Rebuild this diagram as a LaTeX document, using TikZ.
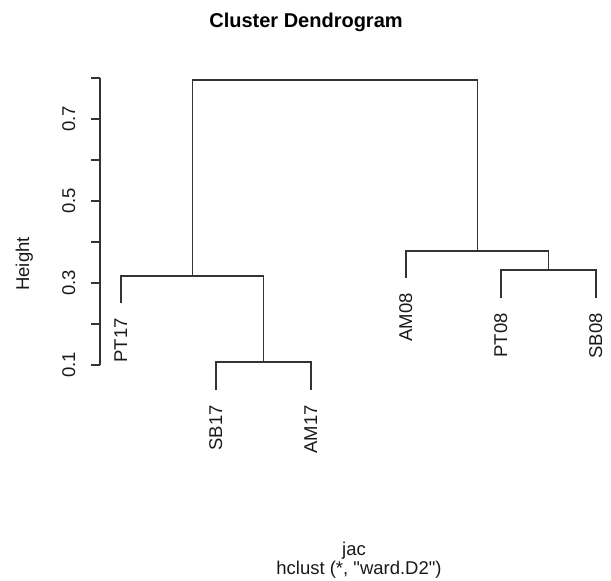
\documentclass[tikz,border=0pt]{standalone}
\usepackage{fontspec}
\setmainfont{Liberation Sans}
\newfontfamily\plainfont{Liberation Sans}
\begin{document}
\begin{tikzpicture}[x=1pt,y=-1pt,
  tree/.style={line width=1.35pt, draw=black!80},
  axisline/.style={line width=1.2pt, draw=black!80},
  lab/.style={inner sep=0pt, font=\fontsize{18.5}{20}\selectfont, text=black!90},
  leaflab/.style={lab, rotate=90, anchor=base east},
  ticklab/.style={lab, rotate=90, anchor=base},
  titlelab/.style={inner sep=0pt, anchor=base, font=\fontsize{20}{22}\selectfont\bfseries, text=black}]
\useasboundingbox (0,0) rectangle (611,581);

% title and axis captions
\node[titlelab] (title) at (306,27) {Cluster Dendrogram};
\node[ticklab] (ylab) at (29,264) {Height};
\node[lab, anchor=base] (xlab) at (354,555) {jac};
\node[lab, anchor=base, font=\plainfont\fontsize{18.5}{20}\selectfont] (sub) at (359,574) {hclust (*, "ward.D2")};

% y axis
\coordinate (ax0) at (100,365);
\coordinate (ax1) at (100,78);
\draw[axisline] (ax0) -- (ax1);
\foreach \i/\yy in {1/365,2/324,3/283,4/242,5/201,6/160,7/119,8/78}{
  \coordinate (t\i) at (100,\yy);
  \coordinate (tl\i) at (91,\yy);
  \draw[axisline] (t\i) -- (tl\i);
}
\node[ticklab] (l1) at (75,365) {0.1};
\node[ticklab] (l3) at (75,283) {0.3};
\node[ticklab] (l5) at (75,201) {0.5};
\node[ticklab] (l7) at (75,119) {0.7};

% leaves (bottom ends)
\coordinate (PT17) at (121,303);
\coordinate (SB17) at (216,390);
\coordinate (AM17) at (311,390);
\coordinate (AM08) at (406,278);
\coordinate (PT08) at (501,298);
\coordinate (SB08) at (596,298);

% merges
\coordinate (mSA) at (263.5,362);
\coordinate (mL) at (192.25,276);
\coordinate (mPS) at (548.5,270);
\coordinate (mR) at (477.25,251);
\coordinate (mTop) at (334.75,80);

% dendrogram segments
\draw[tree] (SB17) |- (mSA) -| (AM17);
\draw[tree] (PT17) |- (mL) -| (mSA);
\draw[tree] (PT08) |- (mPS) -| (SB08);
\draw[tree] (AM08) |- (mR) -| (mPS);
\draw[tree] (mL) |- (mTop) -| (mR);

% leaf labels
\node[leaflab] (nPT17) at ([xshift=6pt,yshift=-15pt]PT17) {PT17};
\node[leaflab] (nSB17) at ([xshift=6pt,yshift=-15pt]SB17) {SB17};
\node[leaflab] (nAM17) at ([xshift=6pt,yshift=-15pt]AM17) {AM17};
\node[leaflab] (nAM08) at ([xshift=6pt,yshift=-15pt]AM08) {AM08};
\node[leaflab] (nPT08) at ([xshift=6pt,yshift=-15pt]PT08) {PT08};
\node[leaflab] (nSB08) at ([xshift=6pt,yshift=-15pt]SB08) {SB08};
\end{tikzpicture}
\end{document}
